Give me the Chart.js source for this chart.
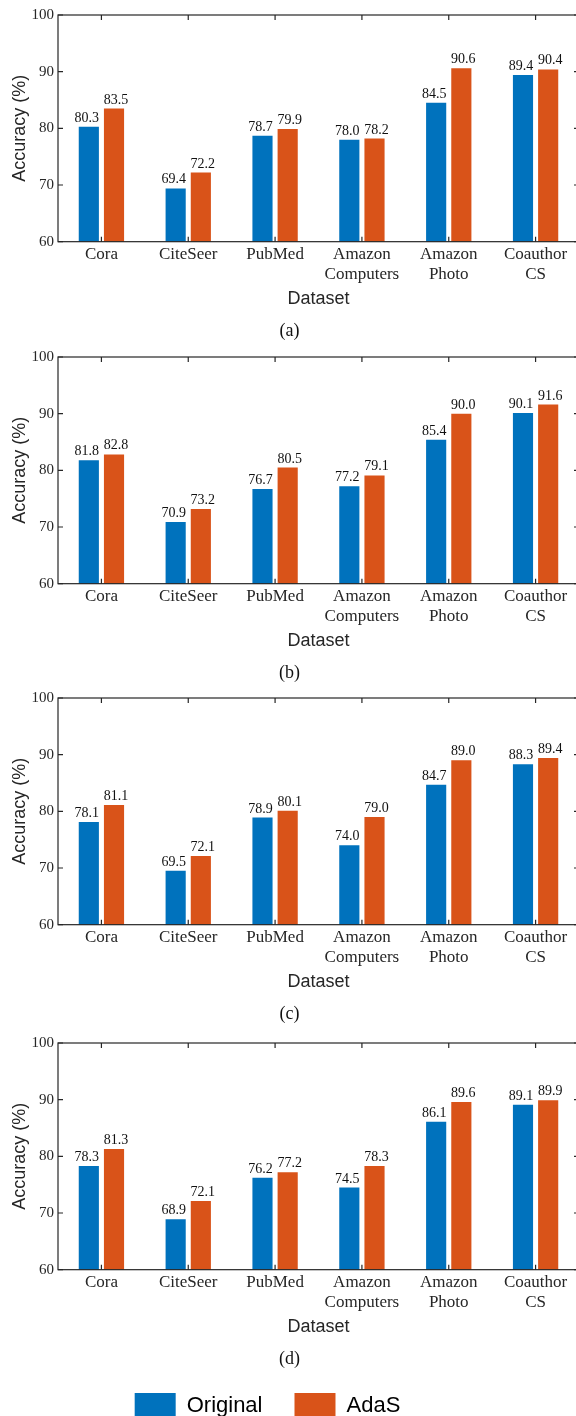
<!DOCTYPE html>
<html>
<head>
<meta charset="utf-8">
<script src="https://cdn.jsdelivr.net/npm/chart.js@4/dist/chart.umd.min.js"></script>
<style>
  html, body { margin: 0; padding: 0; background: #fff; overflow: hidden; }
  #page { position: relative; width: 576px; height: 1416px; overflow: hidden; }
  .panel { position: absolute; left: 0; width: 581px; height: 342px; }
  #legendBox { position: absolute; left: 0; top: 1361px; width: 535px; height: 200px; }
</style>
</head>
<body>
<div id="page">
  <div class="panel" style="top:0px"><canvas id="chartA"></canvas></div>
  <div class="panel" style="top:342px"><canvas id="chartB"></canvas></div>
  <div class="panel" style="top:683px"><canvas id="chartC"></canvas></div>
  <div class="panel" style="top:1028px"><canvas id="chartD"></canvas></div>
  <div id="legendBox"><canvas id="legendCanvas"></canvas></div>
</div>
<script>
// Accuracy of original vs AdaS on six datasets, four settings (a)-(d)

var categories = ['Cora', 'CiteSeer', 'PubMed', ['Amazon', 'Computers'], ['Amazon', 'Photo'], ['Coauthor', 'CS']];
var seriesNames = ['Original', 'AdaS'];
var yTicks = [60, 70, 80, 90, 100];
var captions = ['(a)', '(b)', '(c)', '(d)'];

var originalA = [80.3, 69.4, 78.7, 78.0, 84.5, 89.4];
var adasA     = [83.5, 72.2, 79.9, 78.2, 90.6, 90.4];
var originalB = [81.8, 70.9, 76.7, 77.2, 85.4, 90.1];
var adasB     = [82.8, 73.2, 80.5, 79.1, 90.0, 91.6];
var originalC = [78.1, 69.5, 78.9, 74.0, 84.7, 88.3];
var adasC     = [81.1, 72.1, 80.1, 79.0, 89.0, 89.4];
var originalD = [78.3, 68.9, 76.2, 74.5, 86.1, 89.1];
var adasD     = [81.3, 72.1, 77.2, 78.3, 89.6, 89.9];

var blue = '#0072BD';
var orange = '#D95319';
var ink = '#262626';
var serif = '"Liberation Serif", "Times New Roman", serif';
var sans = '"Liberation Sans", Arial, sans-serif';

// box round the plot with small inward ticks on all four sides
var framePlugin = {
    id: 'frame',
    afterDatasetsDraw: function (chart) {
        var ctx = chart.ctx, a = chart.chartArea;
        var x = chart.scales.x, y = chart.scales.y;
        ctx.save();
        ctx.strokeStyle = ink;
        ctx.lineWidth = 1.2;
        ctx.strokeRect(a.left, a.top, a.right - a.left, a.bottom - a.top);
        ctx.beginPath();
        x.ticks.forEach(function (t, i) {
            var px = x.getPixelForTick(i);
            ctx.moveTo(px, a.bottom); ctx.lineTo(px, a.bottom - 5);
            ctx.moveTo(px, a.top); ctx.lineTo(px, a.top + 5);
        });
        y.ticks.forEach(function (t, i) {
            var py = y.getPixelForTick(i);
            ctx.moveTo(a.left, py); ctx.lineTo(a.left + 5, py);
            ctx.moveTo(a.right, py); ctx.lineTo(a.right - 5, py);
        });
        ctx.stroke();
        ctx.restore();
    }
};

// value written above each bar
var valuePlugin = {
    id: 'values',
    afterDatasetsDraw: function (chart) {
        var ctx = chart.ctx;
        ctx.save();
        ctx.font = '14px ' + serif;
        ctx.fillStyle = '#111';
        ctx.textAlign = 'center';
        ctx.textBaseline = 'alphabetic';
        chart.data.datasets.forEach(function (ds, di) {
            chart.getDatasetMeta(di).data.forEach(function (bar, i) {
                ctx.fillText(ds.data[i].toFixed(1), bar.x + (di === 0 ? -2 : 2), bar.y - 5);
            });
        });
        ctx.restore();
    }
};

function makePanel(id, original, adas, caption) {
    return new Chart(document.getElementById(id), {
        type: 'bar',
        data: {
            labels: categories,
            datasets: [
                { label: seriesNames[0], data: original, backgroundColor: blue, borderWidth: 0 },
                { label: seriesNames[1], data: adas, backgroundColor: orange, borderWidth: 0 }
            ]
        },
        options: {
            responsive: true,
            maintainAspectRatio: false,
            animation: false,
            layout: { padding: { top: 15, right: 2, left: 0, bottom: 0 } },
            datasets: { bar: { categoryPercentage: 0.58, barPercentage: 0.8 } },
            plugins: {
                legend: { display: false },
                tooltip: { enabled: false },
                title: {
                    display: true,
                    text: caption,
                    position: 'bottom',
                    color: '#111',
                    font: { family: serif, size: 18, weight: 'normal' },
                    padding: { top: 11, bottom: 0 }
                }
            },
            scales: {
                x: {
                    grid: { display: false, drawTicks: false },
                    border: { display: false },
                    ticks: { color: ink, padding: 3, maxRotation: 0, font: { family: serif, size: 17, lineHeight: 1.18 } },
                    title: { display: true, text: 'Dataset', color: ink, font: { family: sans, size: 18 }, padding: { top: 0, bottom: 0 } }
                },
                y: {
                    min: yTicks[0],
                    max: yTicks[yTicks.length - 1],
                    afterBuildTicks: function (s) { s.ticks = yTicks.map(function (v) { return { value: v }; }); },
                    afterFit: function (s) { s.width = 58; },
                    grid: { display: false, drawTicks: false },
                    border: { display: false },
                    ticks: { color: ink, padding: 4, font: { family: serif, size: 15 } },
                    title: { display: true, text: 'Accuracy (%)', color: ink, font: { family: sans, size: 18 }, padding: { top: 9, bottom: 0 } }
                }
            }
        },
        plugins: [framePlugin, valuePlugin]
    });
}

makePanel('chartA', originalA, adasA, captions[0]);
makePanel('chartB', originalB, adasB, captions[1]);
makePanel('chartC', originalC, adasC, captions[2]);
makePanel('chartD', originalD, adasD, captions[3]);

// shared legend under the last panel
new Chart(document.getElementById('legendCanvas'), {
    type: 'bar',
    data: {
        labels: [],
        datasets: [
            { label: seriesNames[0], data: [], backgroundColor: blue, borderWidth: 0 },
            { label: seriesNames[1], data: [], backgroundColor: orange, borderWidth: 0 }
        ]
    },
    options: {
        responsive: true,
        maintainAspectRatio: false,
        animation: false,
        scales: { x: { display: false }, y: { display: false } },
        plugins: {
            tooltip: { enabled: false },
            legend: {
                position: 'top',
                labels: { boxWidth: 41, boxHeight: 26, padding: 32, color: '#000', font: { family: sans, size: 22 } }
            }
        }
    }
});
</script>
</body>
</html>
